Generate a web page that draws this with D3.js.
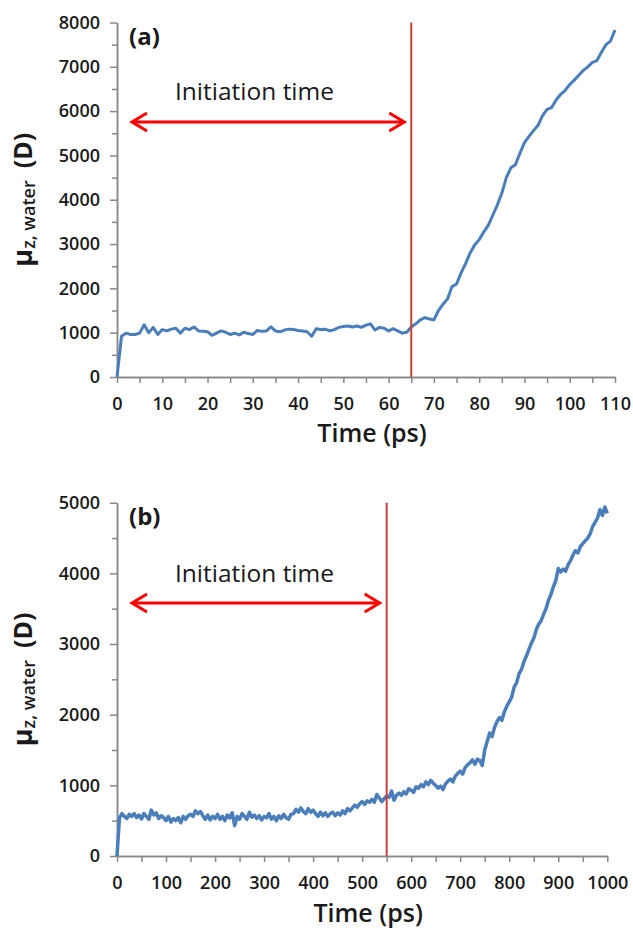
<!DOCTYPE html>
<html>
<head>
<meta charset="utf-8">
<style>
  body { margin: 0; background: #fff; }
  svg { display: block; font-family: "Open Sans", sans-serif; }
</style>
</head>
<body>
<svg width="633" height="932"></svg>
<script src="https://d3js.org/d3.v7.min.js"></script>
<script>

// ---- data: panel (a), sampled every 1 ps ----
var stepA = 1;
var dipoleA = [
  0, 920, 990, 960, 960, 990, 1180, 1000, 1120, 960,
  1070, 1040, 1080, 1100, 990, 1100, 1070, 1130, 1040, 1030,
  1020, 940, 990, 1040, 1010, 960, 990, 950, 1010, 980,
  960, 1050, 1030, 1040, 1130, 1040, 1020, 1060, 1080, 1070,
  1050, 1040, 1020, 920, 1090, 1070, 1080, 1040, 1070, 1120,
  1140, 1150, 1130, 1150, 1120, 1170, 1200, 1060, 1120, 1100,
  1040, 1090, 1040, 990, 1010, 1130, 1200, 1290, 1340, 1310,
  1290, 1500, 1640, 1760, 2040, 2100, 2350, 2560, 2800, 2980,
  3100, 3270, 3420, 3650, 3880, 4150, 4500, 4720, 4790, 5050,
  5290, 5430, 5560, 5680, 5900, 6040, 6080, 6250, 6380, 6470,
  6600, 6700, 6810, 6920, 7000, 7100, 7140, 7330, 7500, 7580,
  7830
];
var initiationA = 65;
var xMajorA = [0, 10, 20, 30, 40, 50, 60, 70, 80, 90, 100, 110];
var xMinorA = [5, 15, 25, 35, 45, 55, 65, 75, 85, 95, 105];
var yMajorA = [0, 1000, 2000, 3000, 4000, 5000, 6000, 7000, 8000];
var yMinorA = [500, 1500, 2500, 3500, 4500, 5500, 6500, 7500];

// ---- data: panel (b), sampled every 5 ps ----
var stepB = 5;
var dipoleB = [
  0, 540, 600, 560, 530, 590, 560, 600, 545, 580,
  525, 600, 560, 520, 650, 580, 610, 530, 570, 545,
  500, 560, 480, 530, 500, 545, 470, 560, 520, 570,
  590, 560, 640, 600, 630, 570, 520, 580, 510, 560,
  530, 590, 520, 560, 500, 580, 540, 610, 430, 560,
  520, 600, 560, 520, 620, 550, 580, 530, 570, 510,
  560, 540, 600, 520, 560, 500, 570, 530, 590, 540,
  520, 590, 600, 660, 620, 680, 630, 600, 670, 620,
  650, 600, 560, 620, 570, 610, 560, 600, 620, 570,
  610, 580, 640, 600, 670, 640, 680, 720, 690, 740,
  770, 730, 780, 760, 800, 760, 870, 820, 770, 810,
  850, 830, 920, 790, 860, 890, 860, 910, 880, 950,
  930, 900, 980, 960, 1010, 980, 1050, 1010, 1070, 1030,
  1000, 960, 990, 940, 1020, 1060, 1090, 1050, 1130, 1170,
  1200, 1160, 1250, 1290, 1320, 1360, 1300, 1370, 1350, 1280,
  1500, 1620, 1740, 1690, 1820, 1900, 1960, 1920, 2040, 2120,
  2180, 2250, 2390, 2450, 2580, 2640, 2750, 2830, 2920, 3010,
  3080, 3200, 3280, 3330, 3420, 3500, 3620, 3700, 3810, 3900,
  4070, 4020, 4060, 4030, 4120, 4180, 4260, 4320, 4290, 4380,
  4420, 4460, 4500, 4560, 4660, 4720, 4780, 4900, 4820, 4940,
  4850
];
var initiationB = 550;
var xMajorB = [0, 100, 200, 300, 400, 500, 600, 700, 800, 900, 1000];
var xMinorB = [50, 150, 250, 350, 450, 550, 650, 750, 850, 950];
var yMajorB = [0, 1000, 2000, 3000, 4000, 5000];
var yMinorB = [500, 1500, 2500, 3500, 4500];

var svg = d3.select("svg");
var fmt = d3.format("d");

var panels = [
  {tag: "(a)", step: stepA, values: dipoleA, init: initiationA, width: 3,
   xMajor: xMajorA, xMinor: xMinorA, yMajor: yMajorA, yMinor: yMinorA,
   xDomain: [0, 110], yDomain: [0, 8000],
   left: 117, right: 615, top: 22.5, bottom: 377, arrowY: 122, textY: 100, tagY: 45, titleY: 442},
  {tag: "(b)", step: stepB, values: dipoleB, init: initiationB, width: 3.5,
   xMajor: xMajorB, xMinor: xMinorB, yMajor: yMajorB, yMinor: yMinorB,
   xDomain: [0, 1000], yDomain: [0, 5000],
   left: 117, right: 607.3, top: 502.7, bottom: 856, arrowY: 603, textY: 582, tagY: 525, titleY: 922}
];

function styleAxis(g) {
  g.select(".domain").attr("stroke", "#888").attr("stroke-width", 1.5);
  g.selectAll(".tick line").attr("stroke", "#888").attr("stroke-width", 1.5);
  g.selectAll(".tick text")
      .attr("fill", "#1a1a1a")
      .style("font-family", "'Open Sans', sans-serif")
      .style("font-size", "18px")
      .style("font-weight", 600);
}

panels.forEach(function(p) {
  var x = d3.scaleLinear().domain(p.xDomain).range([p.left, p.right]);
  var y = d3.scaleLinear().domain(p.yDomain).range([p.bottom, p.top]);

  // minor ticks (no labels)
  svg.append("g")
      .attr("transform", "translate(0," + p.bottom + ")")
      .call(d3.axisBottom(x).tickValues(p.xMinor).tickSize(6).tickSizeOuter(0))
      .call(styleAxis)
      .call(function(g) { g.selectAll("text").remove(); });
  svg.append("g")
      .attr("transform", "translate(" + p.left + ",0)")
      .call(d3.axisLeft(y).tickValues(p.yMinor).tickSize(5).tickSizeOuter(0))
      .call(styleAxis)
      .call(function(g) { g.selectAll("text").remove(); });

  // major ticks with labels
  svg.append("g")
      .attr("transform", "translate(0," + p.bottom + ")")
      .call(d3.axisBottom(x).tickValues(p.xMajor).tickSize(6).tickSizeOuter(0).tickPadding(14).tickFormat(fmt))
      .call(styleAxis);
  svg.append("g")
      .attr("transform", "translate(" + p.left + ",0)")
      .call(d3.axisLeft(y).tickValues(p.yMajor).tickSize(7).tickSizeOuter(0).tickPadding(10).tickFormat(fmt))
      .call(styleAxis);

  // dipole trace
  var line = d3.line()
      .x(function(d, i) { return x(i * p.step); })
      .y(function(d) { return y(d); });

  svg.append("path")
      .datum(p.values)
      .attr("fill", "none")
      .attr("stroke", "#4a7ebb")
      .attr("stroke-width", p.width)
      .attr("stroke-linejoin", "round")
      .attr("d", line);

  // initiation marker
  svg.append("line")
      .attr("x1", x(p.init)).attr("x2", x(p.init))
      .attr("y1", p.top).attr("y2", p.bottom)
      .attr("stroke", "#c9403d")
      .attr("stroke-width", 2);

  // double arrow
  var ax0 = p.left + 15, ax1 = x(p.init) - 7;
  var arrow = svg.append("g")
      .attr("fill", "none")
      .attr("stroke", "#ff0000")
      .attr("stroke-width", 3);
  arrow.append("line").attr("x1", ax0).attr("x2", ax1).attr("y1", p.arrowY).attr("y2", p.arrowY);
  arrow.append("path").attr("d", "M" + (ax0 + 15) + "," + (p.arrowY - 9) + "L" + ax0 + "," + p.arrowY + "L" + (ax0 + 15) + "," + (p.arrowY + 9));
  arrow.append("path").attr("d", "M" + (ax1 - 15) + "," + (p.arrowY - 9) + "L" + ax1 + "," + p.arrowY + "L" + (ax1 - 15) + "," + (p.arrowY + 9));

  svg.append("text")
      .attr("x", 175)
      .attr("y", p.textY)
      .attr("fill", "#1a1a1a")
      .style("font-size", "24.5px")
      .text("Initiation time");

  svg.append("text")
      .attr("x", 129)
      .attr("y", p.tagY)
      .attr("fill", "#1a1a1a")
      .style("font-size", "24px")
      .style("font-weight", 700)
      .text(p.tag);

  // axis titles
  svg.append("text")
      .attr("x", (p.left + p.right) / 2 + 6)
      .attr("y", p.titleY)
      .attr("text-anchor", "middle")
      .attr("fill", "#1a1a1a")
      .style("font-size", "25px")
      .style("font-weight", 600)
      .text("Time (ps)");

  var yt = svg.append("text")
      .attr("transform", "translate(32," + ((p.top + p.bottom) / 2) + ") rotate(-90)")
      .attr("text-anchor", "middle")
      .attr("fill", "#1a1a1a")
      .style("font-weight", 700);
  yt.append("tspan").style("font-size", "27px").text("\u03bc");
  yt.append("tspan").style("font-size", "18px").style("font-weight", 600).attr("dy", 3).text("z, water");
  yt.append("tspan").style("font-size", "25px").attr("dy", -3).attr("dx", 12).text("(D)");
});

</script>
</body>
</html>
